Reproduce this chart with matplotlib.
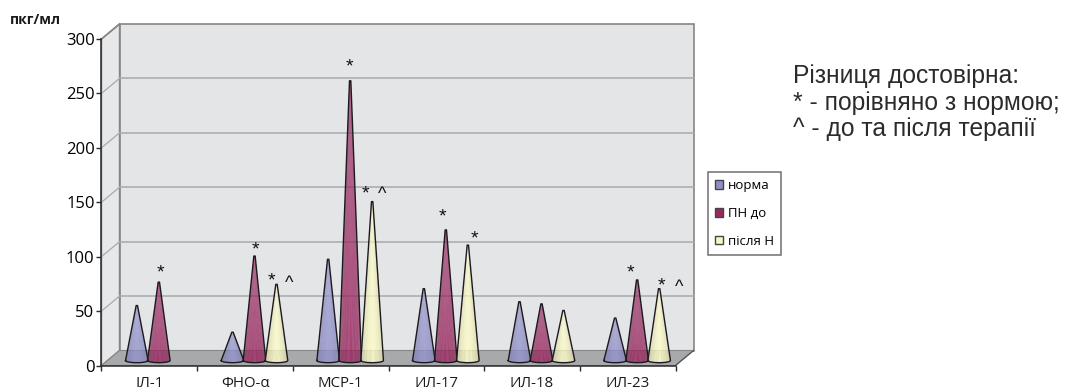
import numpy as np
import matplotlib
matplotlib.use("Agg")
import matplotlib.pyplot as plt
from matplotlib.colors import to_rgb
from matplotlib.patches import Patch, Polygon
from matplotlib.transforms import Affine2D

categories = ["ІЛ-1", "ФНО-α", "МСР-1", "ИЛ-17", "ИЛ-18", "ИЛ-23"]
series_names = ["норма", "ПН до", "після Н"]
norma = [50.5, 26, 93, 66, 54, 39]
pn_do = [72, 96, 257, 120, 52, 74]
pislya = [None, 70, 146, 106, 46, 66]
yticks = [0, 50, 100, 150, 200, 250, 300]

# (category index, series index, symbol, x offset px, y offset px from the cone tip)
significance = [
    (0, 1, "*", 2, 9), (1, 1, "*", 1, 6), (1, 2, "*", -5, 3), (1, 2, "^", 13, 1),
    (2, 1, "*", -1, 14), (2, 2, "*", -7, 8), (2, 2, "^", 10, 7),
    (3, 1, "*", -3, 13), (3, 2, "*", 7, 6),
    (5, 1, "*", -7, 7), (5, 2, "*", 2, 3), (5, 2, "^", 20, 1),
]

colors = ["#8f8fc8", "#98285f", "#f8f7c2"]
W, H = 1065, 392
# Front plot frame in pixels and depth of the 3D box
X0, X1, Y0, Y1 = 101.5, 675.5, 365.5, 39.0
DEPTH = (18, 15)
CONE_SHIFT = (9.5, 5)

plt.rcParams["font.family"] = ["Open Sans", "DejaVu Sans"]
fig = plt.figure(figsize=(W / 100, H / 100), dpi=100)
ax = fig.add_axes([X0 / W, 1 - Y0 / H, (X1 - X0) / W, (Y0 - Y1) / H])
ax.set_xlim(0, len(categories))
ax.set_ylim(0, 300)
ax.patch.set_visible(False)
for name in ("top", "right"):
    ax.spines[name].set_visible(False)
for name in ("left", "bottom"):
    ax.spines[name].set_linewidth(1.1)
    ax.spines[name].set_color("#2a2a2a")
    ax.spines[name].set_zorder(6)

xm, ym = len(categories), 300
back = ax.transData + Affine2D().translate(*DEPTH)
mid = ax.transData + Affine2D().translate(*CONE_SHIFT)


def depth_point(x, y):
    """Data point moved to the back plane, returned in data coordinates."""
    return ax.transData.inverted().transform(back.transform((x, y)))


# Side wall, back wall and floor of the box
side = [(0, 0), (0, ym), tuple(depth_point(0, ym)), tuple(depth_point(0, 0))]
wall = [tuple(depth_point(0, 0)), tuple(depth_point(0, ym)),
        tuple(depth_point(xm, ym)), tuple(depth_point(xm, 0))]
floor = [(0, 0), (xm, 0), tuple(depth_point(xm, 0)), tuple(depth_point(0, 0))]
ax.add_patch(Polygon(side, fc="#e7e8ea", ec="#858688", lw=1.0, clip_on=False, zorder=1))
ax.add_patch(Polygon(wall, fc="#e4e5e7", ec="#858688", lw=1.2, clip_on=False, zorder=1))
ax.add_patch(Polygon(floor, fc="#a8a9ab", ec="#858688", lw=0.8, clip_on=False, zorder=2))

for t in yticks[1:-1]:
    a, b = depth_point(0, t), depth_point(xm, t)
    ax.plot([a[0], b[0]], [a[1], b[1]], color="#a9aaac", lw=1.1, clip_on=False, zorder=1.5)
    ax.plot([0, a[0]], [t, a[1]], color="#a9aaac", lw=0.9, clip_on=False, zorder=1.5)
top_a = depth_point(0, ym)
ax.plot([0, top_a[0]], [ym, top_a[1]], color="#858688", lw=1.2, clip_on=False, zorder=1.5)
ax.plot([xm, depth_point(xm, 0)[0]], [0, depth_point(xm, 0)[1]], color="#555555",
        lw=0.9, clip_on=False, zorder=3)


def shade(rgb, u):
    """Facet colour across the cone: u runs from -1 (left) to 1 (right)."""
    k = 1.03 - 0.14 * abs(u) ** 1.5 + 0.015 * np.sin(u * 26)
    return tuple(np.clip(np.array(rgb) * k, 0, 1))


def draw_cone(center, value, color, order):
    half = 0.118
    tip = 0.007
    lift = 2.0
    rgb = to_rgb(color)
    angles = np.linspace(np.pi, 2 * np.pi, 41)
    cosines = np.cos(angles)
    bx = center + half * cosines
    by = lift * np.sin(angles)
    for i in range(len(angles) - 1):
        quad = [(center + tip * cosines[i], value), (center + tip * cosines[i + 1], value),
                (bx[i + 1], by[i + 1]), (bx[i], by[i])]
        ax.add_patch(Polygon(quad, fc=shade(rgb, cosines[i]), ec="none", lw=0,
                             transform=mid, clip_on=False, zorder=order))
    ox = list(bx) + [center + tip, center - tip, bx[0]]
    oy = list(by) + [value, value, by[0]]
    ax.plot(ox, oy, color="#1d1a1f", lw=1.0, transform=mid, clip_on=False,
            solid_joinstyle="round", zorder=order + 0.01)


step = 0.23
series = (norma, pn_do, pislya)
for s, values in enumerate(series):
    for c, v in enumerate(values):
        if v is not None:
            draw_cone(c + 0.5 + (s - 1) * step, v, colors[s], 3 + s + c * 0.1)

for c, s, symbol, dx, dy in significance:
    ax.annotate(symbol, xy=(c + 0.5 + (s - 1) * step, series[s][c]), xycoords=mid,
                xytext=(dx, dy), textcoords="offset pixels", ha="center", va="center",
                fontsize=14 if symbol == "*" else 13, color="#111111",
                family="Liberation Sans", annotation_clip=False, zorder=8)

ax.set_yticks(yticks)
ax.set_xticks(range(len(categories) + 1))
ax.set_xticklabels([])
ax.tick_params(axis="y", length=3.5, width=1, color="#2a2a2a", labelsize=12, pad=1.5)
ax.tick_params(axis="x", length=3.5, width=1, color="#2a2a2a")
for i, label in enumerate(categories):
    ax.annotate(label, xy=(i + 0.5, 0), xycoords="data", xytext=(0, -18),
                textcoords="offset pixels", ha="center", va="center",
                fontsize=10.8, color="#1a1a1a", annotation_clip=False)

fig.text(10 / W, 1 - 19.5 / H, "пкг/мл", fontsize=10, fontweight="bold", va="center",
         color="#1a1a1a")

handles = [Patch(fc=c, ec="#444444", lw=1) for c in colors]
leg = fig.legend(handles, series_names, loc="upper left",
                 bbox_to_anchor=(708 / W, 1 - 172 / H), bbox_transform=fig.transFigure,
                 fontsize=9.5, frameon=True, fancybox=False, edgecolor="#6f6f6f",
                 handlelength=0.62, handleheight=0.62, handletextpad=0.35, labelspacing=1.12,
                 borderpad=0.55, borderaxespad=0, framealpha=1)
leg.get_frame().set_linewidth(1.1)

note_lines = ["Різниця достовірна:", "* - порівняно з нормою;", "^ - до та після терапії"]
for text, baseline in zip(note_lines, (83, 110, 136)):
    fig.text(793 / W, 1 - baseline / H, text, fontsize=17.7, family="Liberation Sans",
             color="#2b2b2b", va="baseline")

fig.savefig("out.png", dpi=100)
